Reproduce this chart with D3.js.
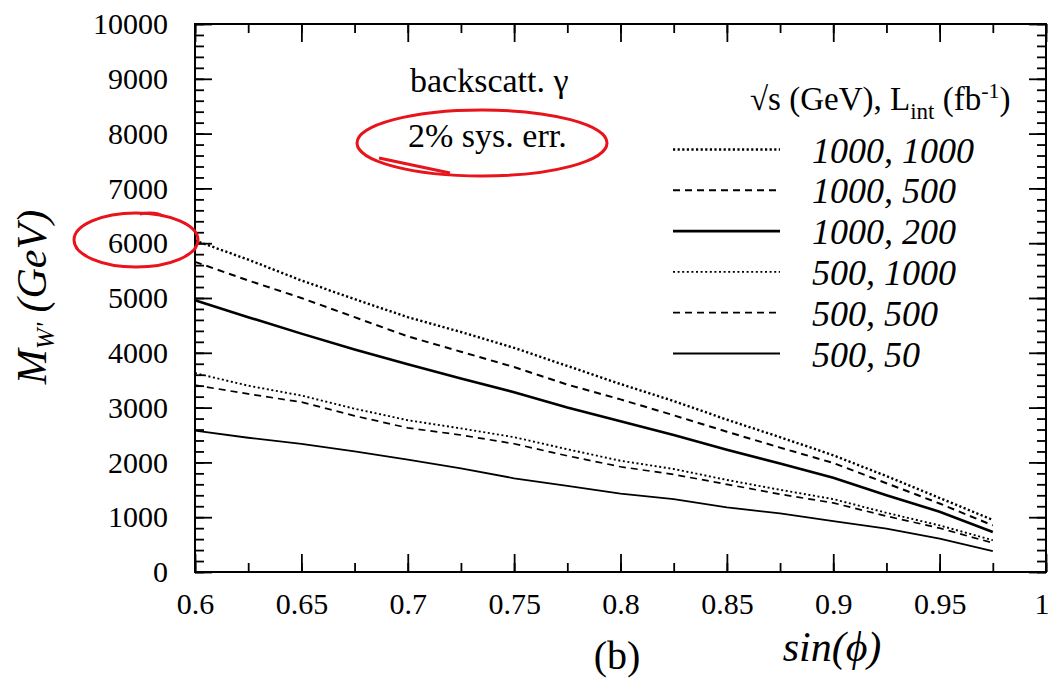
<!DOCTYPE html>
<html><head><meta charset="utf-8">
<script src="https://cdn.jsdelivr.net/npm/d3@7"></script>
</head>
<body style="margin:0">
<svg id="chart" width="1049" height="679"></svg>
<script>
// ---- data ----
const sinPhi = [0.6,0.625,0.65,0.675,0.7,0.725,0.75,0.775,0.8,0.825,0.85,0.875,0.9,0.925,0.95,0.975];
const s1000_1000 = [6050,5700,5320,4980,4650,4380,4090,3760,3430,3120,2780,2460,2130,1750,1350,950];
const s1000_500  = [5660,5320,5000,4650,4300,4020,3740,3420,3150,2860,2560,2270,1990,1620,1250,850];
const s1000_200  = [4960,4650,4350,4060,3790,3530,3280,3000,2750,2500,2230,1980,1720,1400,1100,730];
const s500_1000  = [3630,3400,3220,2980,2770,2620,2460,2240,2030,1880,1680,1500,1330,1080,850,580];
const s500_500   = [3410,3250,3100,2850,2630,2500,2340,2120,1920,1780,1600,1420,1260,1020,800,530];
const s500_50    = [2580,2450,2340,2200,2050,1890,1710,1570,1430,1330,1180,1070,930,790,610,380];
const seriesLabels = ["1000, 1000","1000, 500","1000, 200","500, 1000","500, 500","500, 50"];
const xTickValues = [0.6,0.65,0.7,0.75,0.8,0.85,0.9,0.95,1.0];
const xTickLabels = ["0.6","0.65","0.7","0.75","0.8","0.85","0.9","0.95","1"];
const yTickValues = [0,1000,2000,3000,4000,5000,6000,7000,8000,9000,10000];

const series = [s1000_1000,s1000_500,s1000_200,s500_1000,s500_500,s500_50];
const styles = [
  {dash:"2.2,2.4", w:2.4},
  {dash:"7,5", w:2},
  {dash:null, w:2.6},
  {dash:"2,2.6", w:1.9},
  {dash:"7,5", w:1.7},
  {dash:null, w:1.8}
];
const FONT = "Liberation Serif, Times New Roman, serif";

const svg = d3.select("#chart");
const L=195, R=1046, T=24, B=572;
const x = d3.scaleLinear().domain([0.6,1.0]).range([L,R]);
const y = d3.scaleLinear().domain([0,10000]).range([B,T]);

const xMinor = d3.range(0.6,1.0001,0.025);
const yMinor = d3.range(0,10001,200);
function styleAxis(g){
  g.attr("font-family",null).attr("font-size",null);
  g.select(".domain").remove();
  g.selectAll(".tick line").attr("stroke","#000").attr("stroke-width",1.8);
  g.selectAll(".tick text").attr("font-family",FONT).attr("font-size",30).attr("fill","#000");
}

svg.append("g").attr("transform",`translate(0,${B})`).call(d3.axisBottom(x).tickValues(xMinor).tickSize(-9).tickFormat("")).call(styleAxis);
svg.append("g").attr("transform",`translate(0,${T})`).call(d3.axisTop(x).tickValues(xMinor).tickSize(-9).tickFormat("")).call(styleAxis);
svg.append("g").attr("transform",`translate(${L},0)`).call(d3.axisLeft(y).tickValues(yMinor).tickSize(-9).tickFormat("")).call(styleAxis);
svg.append("g").attr("transform",`translate(${R},0)`).call(d3.axisRight(y).tickValues(yMinor).tickSize(-9).tickFormat("")).call(styleAxis);

const xa = svg.append("g").attr("transform",`translate(0,${B})`)
  .call(d3.axisBottom(x).tickValues(xTickValues).tickSize(-18).tickPadding(21).tickFormat((d,i)=>xTickLabels[i])).call(styleAxis);
xa.selectAll("text").filter(d=>d===1.0).attr("text-anchor","end").attr("x",3);
svg.append("g").attr("transform",`translate(0,${T})`).call(d3.axisTop(x).tickValues(xTickValues).tickSize(-18).tickFormat("")).call(styleAxis);
svg.append("g").attr("transform",`translate(${L},0)`)
  .call(d3.axisLeft(y).tickValues(yTickValues).tickSize(-17).tickPadding(27).tickFormat(d3.format("d"))).call(styleAxis);
svg.append("g").attr("transform",`translate(${R},0)`).call(d3.axisRight(y).tickValues(yTickValues).tickSize(-17).tickFormat("")).call(styleAxis);

svg.append("rect").attr("x",L).attr("y",T).attr("width",R-L).attr("height",B-T)
  .attr("fill","none").attr("stroke","#000").attr("stroke-width",2);

const line = d3.line().x(d=>x(d[0])).y(d=>y(d[1]));
series.forEach((s,i)=>{
  svg.append("path").datum(sinPhi.map((v,j)=>[v,s[j]]))
    .attr("d",line).attr("fill","none").attr("stroke","#000")
    .attr("stroke-width",styles[i].w)
    .attr("stroke-dasharray",styles[i].dash);
});

function txt(xp,yp,size,italic){
  const t = svg.append("text").attr("x",xp).attr("y",yp).attr("font-family",FONT).attr("font-size",size).attr("fill","#000");
  if(italic) t.attr("font-style","italic");
  return t;
}

const hdr = txt(750,110,33,false);
hdr.append("tspan").text("√s (GeV), L");
hdr.append("tspan").attr("dy",9).attr("font-size",23).text("int");
hdr.append("tspan").attr("dy",-9).text(" (fb");
hdr.append("tspan").attr("dy",-12).attr("font-size",22).text("-1");
hdr.append("tspan").attr("dy",12).text(")");

const legY0 = 149.5, legDy = 40.8;
seriesLabels.forEach((lab,i)=>{
  const yy = legY0 + i*legDy;
  svg.append("line").attr("x1",673).attr("x2",780).attr("y1",yy).attr("y2",yy)
    .attr("stroke","#000").attr("stroke-width",styles[i].w).attr("stroke-dasharray",styles[i].dash);
  txt(812,yy+13,36,true).text(lab);
});

txt(410,92,34,false).text("backscatt. γ");
txt(408,147,34,false).text("2% sys. err.");

svg.append("ellipse").attr("cx",482).attr("cy",143).attr("rx",125).attr("ry",33)
  .attr("fill","none").attr("stroke","#e8141c").attr("stroke-width",3);
svg.append("path").attr("d","M379,158 L450,173").attr("fill","none").attr("stroke","#e8141c").attr("stroke-width",3);
svg.append("ellipse").attr("cx",136).attr("cy",240).attr("rx",62).attr("ry",27)
  .attr("fill","none").attr("stroke","#e8141c").attr("stroke-width",3);
svg.append("path").attr("d","M140,214 Q155,211 163,216").attr("fill","none").attr("stroke","#e8141c").attr("stroke-width",3);

const yl = svg.append("text").attr("transform","translate(46,297) rotate(-90)").attr("text-anchor","middle")
  .attr("font-family",FONT).attr("font-size",42).attr("font-style","italic").attr("fill","#000");
yl.append("tspan").text("M");
yl.append("tspan").attr("dy",8).attr("font-size",25).text("W'");
yl.append("tspan").attr("dy",-8).text(" (GeV)");
txt(832,661,42,true).attr("text-anchor","middle").text("sin(ϕ)");
txt(617,669,40,false).attr("text-anchor","middle").text("(b)");
</script>
</body></html>
